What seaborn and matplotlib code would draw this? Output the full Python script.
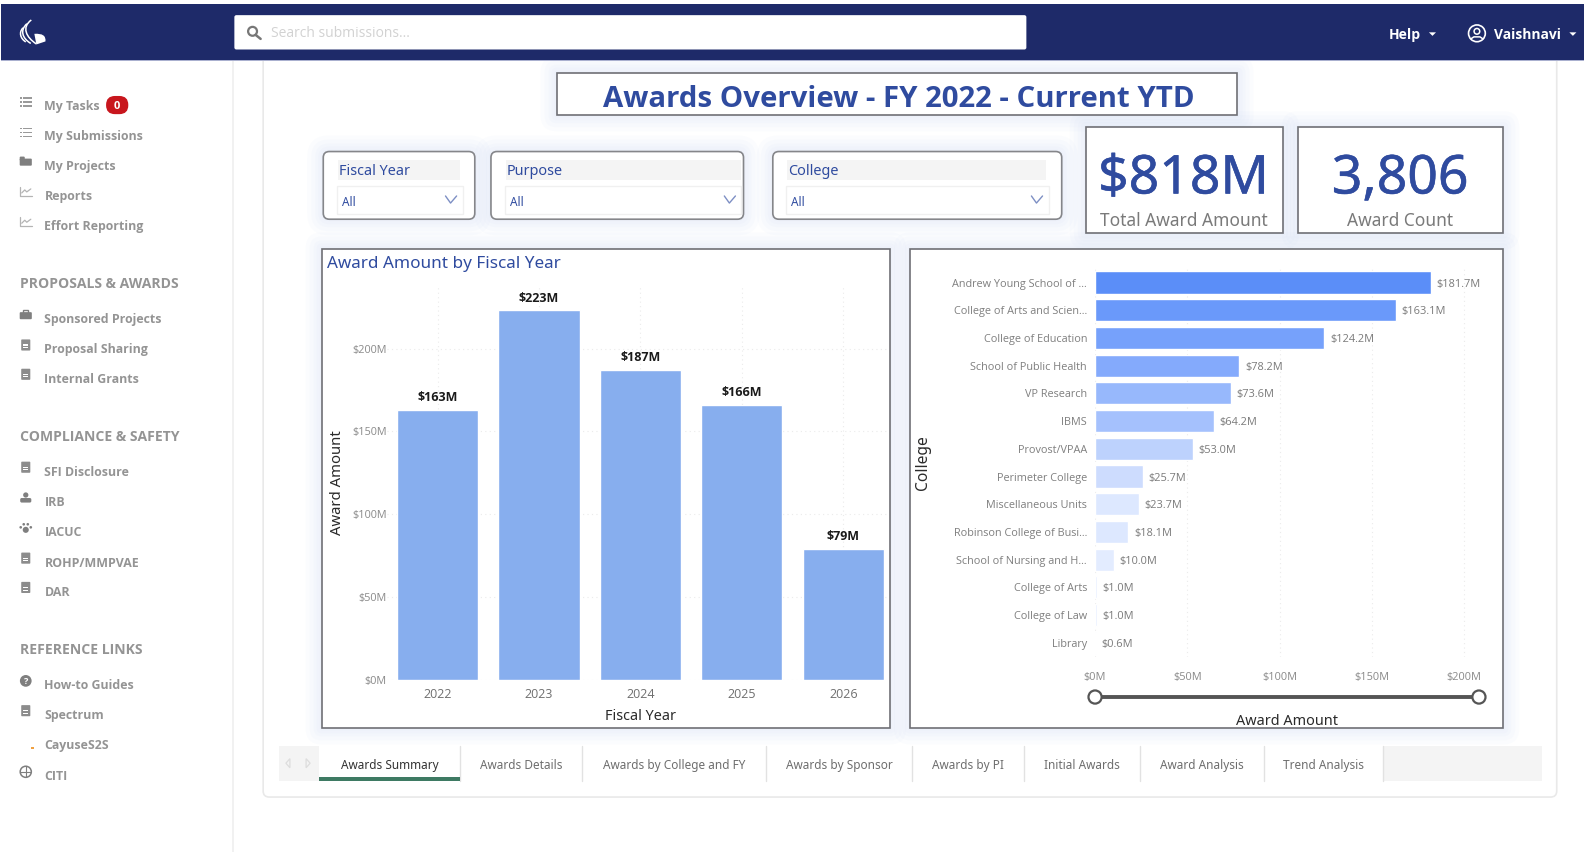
import numpy as np
import matplotlib
matplotlib.use("Agg")
import matplotlib.pyplot as plt
import matplotlib.patheffects as pe
import seaborn as sns
from matplotlib.patches import FancyBboxPatch, Circle, PathPatch
from matplotlib.path import Path

sns.set_theme(style="white")
plt.rcParams['font.family'] = ['Open Sans', 'DejaVu Sans']

# Chart data
fiscal_years = ['2022', '2023', '2024', '2025', '2026']
award_amounts = [163, 223, 187, 166, 79]
award_ticks = [0, 50, 100, 150, 200]

colleges = ['Andrew Young School of ...', 'College of Arts and Scien...', 'College of Education',
            'School of Public Health', 'VP Research', 'IBMS', 'Provost/VPAA', 'Perimeter College',
            'Miscellaneous Units', 'Robinson College of Busi...', 'School of Nursing and H...',
            'College of Arts', 'College of Law', 'Library']
college_amounts = [181.7, 163.1, 124.2, 78.2, 73.6, 64.2, 53.0, 25.7, 23.7, 18.1, 10.0, 1.0, 1.0, 0.6]
college_colors = ['#5B8EF8', '#6A99FA', '#76A1FB', '#84AAFC', '#97B8FC', '#A5C1FD', '#BDD2FD',
                  '#CDDCFE', '#DDE8FF', '#DDE8FF', '#E3ECFF', '#E6EEFF', '#E6EEFF', '#E9F0FF']

# Page text
tabs = ['Awards Summary', 'Awards Details', 'Awards by College and FY', 'Awards by Sponsor',
        'Awards by PI', 'Initial Awards', 'Award Analysis', 'Trend Analysis']
tab_edges = [316, 455, 576, 758, 903, 1014, 1128, 1251, 1369]
menu_items = [('My Tasks', 104, 'list'), ('My Submissions', 134, 'list'), ('My Projects', 163, 'folder'),
              ('Reports', 193, 'chart'), ('Effort Reporting', 223, 'chart'),
              ('Sponsored Projects', 315, 'case'), ('Proposal Sharing', 345, 'doc'), ('Internal Grants', 374, 'doc'),
              ('SFI Disclosure', 466, 'doc'), ('IRB', 496, 'person'), ('IACUC', 526, 'paw'),
              ('ROHP/MMPVAE', 556, 'doc'), ('DAR', 585, 'doc'),
              ('How-to Guides', 677, 'help'), ('Spectrum', 707, 'doc'), ('CayuseS2S', 737, 'dot'), ('CITI', 767, 'globe')]
menu_heads = [('PROPOSALS & AWARDS', 280), ('COMPLIANCE & SAFETY', 431), ('REFERENCE LINKS', 642)]

NAVY = '#1E2A69'
BLUE = '#2F4B9F'
GREY = '#8f8f8f'
W, H = 1568, 843.4

fig = plt.figure(figsize=(15.84, 8.52), dpi=100, facecolor='white')
page = fig.add_axes([0, 0, 1, 1])
page.set_xlim(0, W)
page.set_ylim(H, 0)
page.axis('off')


def box(x0, y0, x1, y1, fc='white', ec='none', lw=1.0, r=0.0, z=2, alpha=None):
    style = f'round,pad=0,rounding_size={r}' if r else 'square,pad=0'
    p = FancyBboxPatch((x0, y0), x1 - x0, y1 - y0, boxstyle=style, fc=fc, ec=ec, lw=lw, zorder=z, alpha=alpha)
    page.add_patch(p)


def card(x0, y0, x1, y1, r=0.0, ec='#6f7075'):
    # soft blue glow behind the visuals
    for pad in (16, 12, 8, 5, 2):
        box(x0 - pad, y0 - pad, x1 + pad, y1 + pad, fc='#5b8ef8', r=pad + r, z=1.5, alpha=0.02)
    box(x0, y0, x1, y1, ec=ec, lw=1.2, r=r, z=2)


def label(x, y, s, size=8.5, color=GREY, weight='normal', ha='left', family=None, z=5, **kw):
    if family:
        kw['family'] = family
    # y is the visual middle of the letters, va='center' sits a bit high
    return page.text(x, y + size * 0.16, s, fontsize=size, color=color, fontweight=weight,
                     ha=ha, va='center', zorder=z, **kw)


def icon(kind, x, y):
    if kind == 'list':
        for dy in (-4, 0, 4):
            box(x - 6, y + dy - 0.6, x - 4, y + dy + 0.6, fc='#9a9a9a')
            box(x - 2.5, y + dy - 0.6, x + 6, y + dy + 0.6, fc='#9a9a9a')
    elif kind == 'folder':
        box(x - 6, y - 3, x + 6, y + 4, fc='#7f7f7f', r=1)
        box(x - 6, y - 5, x - 1, y - 1, fc='#7f7f7f', r=1)
    elif kind == 'chart':
        page.plot([x - 6, x - 6, x + 6], [y - 5, y + 4, y + 4], color='#b4b4b4', lw=0.9, zorder=4)
        page.plot([x - 4, x - 1, x + 1, x + 5], [y + 1, y - 2, y, y - 3], color='#b4b4b4', lw=0.9, zorder=4)
    elif kind == 'case':
        box(x - 6, y - 3, x + 6, y + 4, fc='#7f7f7f', r=1)
        box(x - 2.5, y - 5, x + 2.5, y - 2, fc='none', ec='#7f7f7f', lw=1)
    elif kind == 'doc':
        box(x - 4.5, y - 6, x + 4.5, y + 5, fc='#8c8c8c', r=0.8)
        box(x - 2.5, y - 1, x + 2.5, y + 0.2, fc='white', z=3)
        box(x - 2.5, y + 1.6, x + 2.5, y + 2.6, fc='white', z=3)
    elif kind == 'person':
        page.add_patch(Circle((x, y - 3), 2.6, fc='#7f7f7f', ec='none', zorder=4))
        box(x - 5.5, y, x + 5.5, y + 4.5, fc='#7f7f7f', r=1.5)
    elif kind == 'paw':
        page.add_patch(Circle((x, y + 1.5), 3, fc='#7f7f7f', ec='none', zorder=4))
        for dx, dy in ((-5, -1), (-2, -4), (2, -4), (5, -1)):
            page.add_patch(Circle((x + dx, y + dy), 1.3, fc='#7f7f7f', ec='none', zorder=4))
    elif kind == 'help':
        page.add_patch(Circle((x, y), 5.8, fc='#7f7f7f', ec='none', zorder=4))
        label(x, y, '?', size=6.5, color='white', weight='bold', ha='center')
    elif kind == 'dot':
        box(x + 5, y + 5, x + 8, y + 7, fc='#f0a040')
    elif kind == 'globe':
        page.add_patch(Circle((x, y), 5.5, fc='none', ec='#7f7f7f', lw=1.1, zorder=4))
        page.plot([x - 5.5, x + 5.5], [y, y], color='#7f7f7f', lw=0.8, zorder=4)
        page.plot([x, x], [y - 5.5, y + 5.5], color='#7f7f7f', lw=0.8, zorder=4)


# Top bar
box(1, 4, W, 59, fc=NAVY)
box(1, 59, W, 60, fc='#aab0cf')
page.add_patch(Circle((250, 31), 4.4, fc='none', ec='#777777', lw=1.6, zorder=5))
page.plot([253, 258], [34.5, 38.5], color='#777777', lw=1.8, zorder=5)
label(268, 32, 'Search submissions...', size=10, color='#d2d2d2')
label(1375, 33, 'Help', size=10, color='white', weight='bold')
label(1479, 33, 'Vaishnavi', size=10, color='white', weight='bold')
page.add_patch(Circle((1462, 33), 8.3, fc='none', ec='white', lw=1.2, zorder=5))
page.add_patch(Circle((1462, 31), 2.8, fc='none', ec='white', lw=1.1, zorder=5))
page.plot([1456, 1459, 1465, 1468], [38.5, 36.5, 36.5, 38.5], color='white', lw=1.1, zorder=5)
for cx in (1418, 1557):
    page.add_patch(plt.Polygon([(cx - 3.5, 32), (cx + 3.5, 32), (cx, 35.5)], fc='white', ec='none', zorder=5))

# Logo: three flame strokes and the bowl
flames = [((31, 19.8), (21, 27), (26, 37), (36, 43.5)),
          ((26.6, 23.5), (19.5, 30), (22, 38), (30.5, 43)),
          ((22.8, 27.5), (18.5, 32), (20, 38), (25.5, 41.5))]
for a, b, c, d in flames:
    page.add_patch(PathPatch(Path([a, b, c, d], [Path.MOVETO, Path.CURVE4, Path.CURVE4, Path.CURVE4]),
                             fc='none', ec='white', lw=1.1, zorder=5))
page.add_patch(PathPatch(Path([(34, 33.5), (46, 32.5), (45, 41), (36, 44), (34, 33.5)],
                              [Path.MOVETO, Path.CURVE3, Path.CURVE3, Path.LINETO, Path.CLOSEPOLY]),
                         fc='white', ec='none', zorder=5))

# Sidebar
page.plot([231, 231], [60, H], color='#efefef', lw=1.2, zorder=1)
for text, y, kind in menu_items:
    icon(kind, 25.5, y - 3)
    label(44, y, text, size=8.9, weight='bold', color='#949494')
for text, y in menu_heads:
    label(20, y, text, size=10.1, weight='bold', color='#949494')
box(105, 95, 127, 113, fc='#C8161D', r=8.8, z=4)
label(116, 104, '0', size=8, color='white', weight='bold', ha='center')

# Main card outline, the top bar covers its upper edge
box(260.5, 40, 1541, 789, ec='#e9e9e9', lw=1.2, r=6, z=1)
box(1, 4, W, 59, fc=NAVY, z=2)
box(232, 15, 1016, 49, fc='white', r=2, z=3)

# Title banner
card(551, 72, 1225, 114)
label(889.5, 95, 'Awards Overview - FY 2022 - Current YTD', size=21.2, color=BLUE, weight='bold', ha='center')

# Slicers
slicers = [('Fiscal Year', 320, 470, 335, 455, 458), ('Purpose', 486, 736, 501, 734, 734), ('College', 765, 1051, 779, 1035, 1038)]
for name, x0, x1, hx0, hx1, dx1 in slicers:
    card(x0, 150, x1, 217, r=6, ec='#85868a')
    box(hx0, 158, hx1, 178, fc='#f4f4f4', z=3)
    label(hx0 + 1, 168.5, name, size=10.4, color=BLUE, family='Noto Sans')
    box(hx0 - 1, 184, dx1, 212, ec='#f0f0f0', lw=1, z=3)
    label(hx0 + 4, 199, 'All', size=8.5, color=BLUE, family='Noto Sans')
    page.plot([dx1 - 17, dx1 - 12, dx1 - 6], [194, 201, 194], color='#7d8fc4', lw=1, zorder=5)

# KPI cards
card(1075, 126, 1270, 231)
card(1285, 126, 1488, 231)
heavy = [pe.withStroke(linewidth=0.4, foreground=BLUE)]
label(1171.5, 172, '$818M', size=38.5, color=BLUE, ha='center', family='Noto Sans', path_effects=heavy)
label(1386, 172, '3,806', size=38.5, color=BLUE, ha='center', family='Noto Sans', path_effects=heavy)
label(1171.5, 217, 'Total Award Amount', size=12.5, color='#7a7a7a', ha='center', family='Noto Sans')
label(1386, 217, 'Award Count', size=12.5, color='#7a7a7a', ha='center', family='Noto Sans')

# Chart panels
card(318.5, 246, 881, 721)
card(901, 246, 1488, 721)
label(323.5, 259, 'Award Amount by Fiscal Year', size=12.3, color=BLUE, family='Noto Sans')


def chart_axes(x0, y0, x1, y1):
    ax = fig.add_axes([x0 / W, 1 - y1 / H, (x1 - x0) / W, (y1 - y0) / H], zorder=3)
    ax.patch.set_alpha(0)
    return ax


# Left chart: award amount by fiscal year
ax1 = chart_axes(383, 283, 878, 673)
sns.barplot(x=fiscal_years, y=award_amounts, color='#87AEEE', saturation=1, width=0.8, ax=ax1)
ax1.set_xlim(-0.5, 4.43)
ax1.set_ylim(0, 237.8)
ax1.set_yticks(award_ticks)
ax1.set_yticklabels([f'${v}M' for v in award_ticks])
ax1.bar_label(ax1.containers[0], labels=[f'${v}M' for v in award_amounts], padding=4,
              fontsize=9, fontweight='bold', color='#1a1a1a')
ax1.grid(True, color='#ebebeb', linestyle=(0, (1, 3)), linewidth=0.8)
ax1.set_axisbelow(True)
sns.despine(ax=ax1, left=True, bottom=True, top=True, right=True)
ax1.tick_params(axis='x', length=0, pad=6, labelsize=9, labelcolor='#6f6f6f')
ax1.tick_params(axis='y', length=0, pad=0, labelsize=7.8, labelcolor='#8a8a8a')
ax1.set_xlabel('Fiscal Year', fontsize=10.4, color='#2a2a2a', va='center', family='Noto Sans')
ax1.xaxis.set_label_coords(0.507, -0.094)
ax1.set_ylabel('Award Amount', fontsize=10.7, color='#2a2a2a', va='center', family='Noto Sans')
ax1.yaxis.set_label_coords(-0.099, 0.5)

# Right chart: award amount by college
ax2 = chart_axes(1084, 266, 1470, 650)
sns.barplot(x=college_amounts, y=colleges, hue=colleges, palette=college_colors, legend=False,
            saturation=1, width=0.8, orient='h', ax=ax2)
ax2.set_xlim(0, 211.2)
ax2.set_ylim(13.5, -0.5)
ax2.set_xticks(award_ticks)
ax2.set_xticklabels([f'${v}M' for v in award_ticks])
for cont, v in zip(ax2.containers, college_amounts):
    for t in ax2.bar_label(cont, labels=[f'${v:.1f}M'], padding=4, fontsize=7.9, color='#7a7a7a'):
        t.set_va('center_baseline')
ax2.grid(True, axis='x', color='#ebebeb', linestyle=(0, (1, 3)), linewidth=0.8)
ax2.set_axisbelow(True)
sns.despine(ax=ax2, left=True, bottom=True, top=True, right=True)
ax2.tick_params(axis='x', length=0, pad=11, labelsize=7.9, labelcolor='#8a8a8a')
ax2.tick_params(axis='y', length=0, pad=5.8, labelsize=7.8, labelcolor='#7f7f7f')
ax2.set_xlabel('Award Amount', fontsize=10.4, color='#2a2a2a', va='center', family='Noto Sans')
ax2.xaxis.set_label_coords(0.492, -0.166)
ax2.set_ylabel('College', fontsize=11.2, color='#2a2a2a', va='center', family='Noto Sans')
ax2.yaxis.set_label_coords(-0.441, 0.499)

# Range slider under the right chart
page.plot([1084, 1464], [690, 690], color='#555555', lw=2.8, zorder=4, solid_capstyle='round')
for cx in (1084, 1464):
    page.add_patch(Circle((cx, 690), 6.5, fc='white', ec='#555555', lw=1.6, zorder=5))

# Tab strip
box(276, 738, 1526, 773, fc='#f4f4f4', z=2)
box(316, 738, 1369, 773, fc='white', z=2.1)
for x in tab_edges[1:]:
    page.plot([x, x], [738, 773], color='#e2e2e2', lw=1, zorder=3)
for name, left, right in zip(tabs, tab_edges[:-1], tab_edges[1:]):
    is_active = name == tabs[0]
    label((left + right) / 2, 756, name, size=8.5, color='#333333' if is_active else '#6e6e6e', ha='center', family='Noto Sans')
box(316, 769, 455, 773, fc='#3E7A63', z=3)
page.add_patch(plt.Polygon([(287, 751), (283, 755.5), (287, 760)], fc='none', ec='#dddddd', lw=0.9, zorder=3))
page.add_patch(plt.Polygon([(303, 751), (307, 755.5), (303, 760)], fc='none', ec='#dddddd', lw=0.9, zorder=3))

fig.savefig('out.png', dpi=100, facecolor='white')
